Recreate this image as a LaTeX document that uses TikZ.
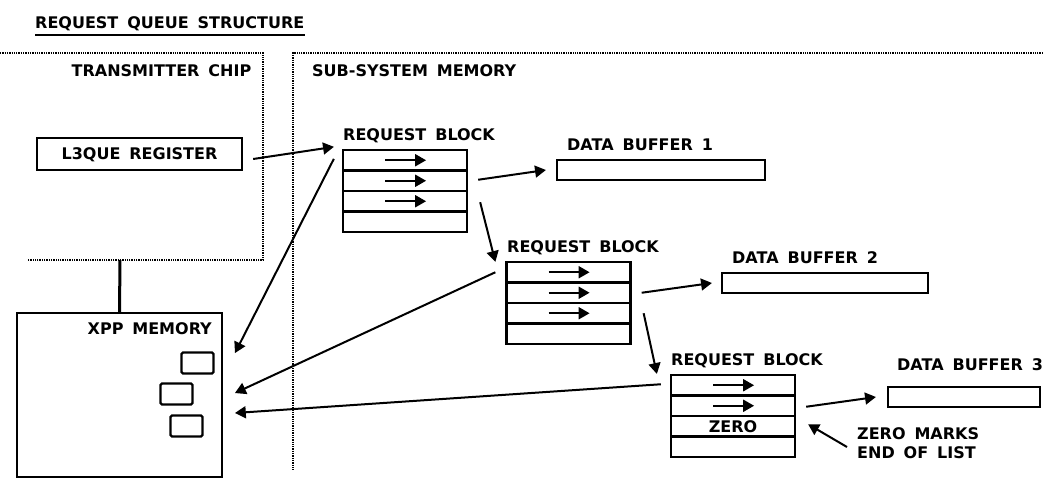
\documentclass[tikz,border=0pt]{standalone}
\usepackage{fontspec}
\setmainfont{DejaVu Sans}[WordSpace=1.6]
\usetikzlibrary{shapes,arrows}
\usetikzlibrary{calc}

\begin{document}
\begin{tikzpicture}[x=1pt,y=-1pt]

\tikzstyle{txt} = [font=\fontsize{16}{19}\selectfont\bfseries, inner sep=0, text height=11.7pt, text depth=0pt]
\tikzstyle{row} = [draw, line width=2.3pt, minimum width=124pt, minimum height=20.5pt, inner sep=0, txt]
\tikzstyle{buffer} = [draw, line width=2.3pt, minimum height=20pt, inner sep=0]
\tikzstyle{slot} = [draw, line width=2.3pt, rounded corners=1.5pt, minimum width=32pt, minimum height=21pt, inner sep=0]
\tikzstyle{link} = [-triangle 60, line width=2pt]
\tikzstyle{dotline} = [densely dotted, line width=1.3pt]

\useasboundingbox (0,0) rectangle (1043,480);

% title
\node[txt, anchor=west] (title) at (35,22.5) {REQUEST QUEUE STRUCTURE};
\draw[line width=2pt] (title.west |- 0,35) -- (305,35);

% regions
\draw[dotline] (0,53) -- (263,53) -- (263,260) -- (28,260);
\draw[dotline] (1043,53) -- (293,53) -- (293,470);
\node[txt, anchor=center] (chip) at (161.5,71) {TRANSMITTER CHIP};
\node[txt, anchor=west] (subsys) at (312,71) {SUB-SYSTEM MEMORY};

\node[draw, line width=2.3pt, minimum width=205pt, minimum height=32pt, inner sep=0] (l3que) at (139.5,154) {};
\node[txt, anchor=center] at (l3que.center) {L3QUE REGISTER};

% xpp memory
\node[draw, line width=2.3pt, minimum width=205pt, minimum height=164pt, inner sep=0] (xpp) at (119.5,395) {};
\node[txt, anchor=east] (xpplabel) at (212,329) {XPP MEMORY};
\node[slot] (slot1) at (197.5,363) {};
\node[slot] (slot2) at (176.5,394) {};
\node[slot] (slot3) at (186.5,426) {};
\coordinate (chipbot) at (120,260);
\draw[line width=3pt] (xpp.north) -- (chipbot);
\coordinate (xppin1) at (235,353);
\coordinate (xppin2) at (235,393);
\coordinate (xppin3) at (235,413);

% request block 1
\node[txt, anchor=west] at (343,135) {REQUEST BLOCK};
\node[row] (rb1a) at (405,160.25) {};
\node[row] (rb1b) at (405,180.75) {};
\node[row] (rb1c) at (405,201.25) {};
\node[row] (rb1d) at (405,221.75) {};
\foreach \r in {rb1a,rb1b,rb1c}
  \draw[link] ($(\r.center)+(-20,0)$) -- ($(\r.center)+(21,0)$);

% request block 2
\node[txt, anchor=west] at (507,247) {REQUEST BLOCK};
\node[row] (rb2a) at (568.5,272.25) {};
\node[row] (rb2b) at (568.5,292.75) {};
\node[row] (rb2c) at (568.5,313.25) {};
\node[row] (rb2d) at (568.5,333.75) {};
\foreach \r in {rb2a,rb2b,rb2c}
  \draw[link] ($(\r.center)+(-20,0)$) -- ($(\r.center)+(21,0)$);

% request block 3
\node[txt, anchor=west] at (671,360) {REQUEST BLOCK};
\node[row] (rb3a) at (733,385.25) {};
\node[row] (rb3b) at (733,405.75) {};
\node[row] (rb3c) at (733,426.25) {ZERO};
\node[row] (rb3d) at (733,446.75) {};
\foreach \r in {rb3a,rb3b}
  \draw[link] ($(\r.center)+(-20,0)$) -- ($(\r.center)+(21,0)$);

% data buffers
\node[txt, anchor=west] at (567,145) {DATA BUFFER 1};
\node[buffer, minimum width=208pt] (buf1) at (661,170) {};
\node[txt, anchor=west] at (732,258) {DATA BUFFER 2};
\node[buffer, minimum width=206pt] (buf2) at (825,283) {};
\node[txt, anchor=west] at (897,365) {DATA BUFFER 3};
\node[buffer, minimum width=152pt] (buf3) at (964,397) {};

\node[txt, anchor=north west, align=left] (endnote) at (857,447) {ZERO MARKS\\END OF LIST};

% links
\draw[link] ($(l3que.east)+(10,5)$) -- ($(rb1a.north west)+(-8,-2)$);
\draw[link] ($(rb1a.north west)+(-8,10)$) -- (xppin1);
\draw[link] ($(rb1b.east)+(10,-1)$) -- ($(buf1.west)+(-10,0)$);
\draw[link] ($(rb1c.east)+(12,1)$) -- ($(rb2a.north west)+(-10,1)$);
\draw[link] ($(rb2a.west)+(-10,0)$) -- (xppin2);
\draw[link] ($(rb2b.east)+(10,0)$) -- ($(buf2.west)+(-9,0)$);
\draw[link] ($(rb2c.east)+(12,0)$) -- ($(rb3a.north west)+(-13,0)$);
\draw[link] ($(rb3a.west)+(-9,-1)$) -- (xppin3);
\draw[link] ($(rb3b.east)+(10,1)$) -- ($(buf3.west)+(-11,0)$);
\draw[link] ($(endnote.north west)+(-10,0)$) -- ($(rb3c.east)+(12,-2)$);

\end{tikzpicture}
\end{document}
